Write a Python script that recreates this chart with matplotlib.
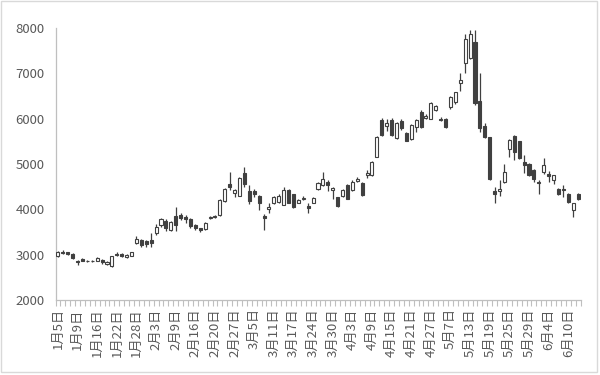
import matplotlib
matplotlib.use("Agg")
import matplotlib.pyplot as plt
from matplotlib.patches import Rectangle
import numpy as np

plt.rcParams['font.family'] = ['Noto Sans CJK JP', 'DejaVu Sans']

# daily candles (category axis, one entry per trading day)
opens = [2980, 3070, 3050, 3010, 2870, 2910, 2870, 2850, 2860, 2880,
         2800, 2740, 3020, 3020, 2950, 2980, 3250, 3320, 3300, 3330,
         3470, 3650, 3740, 3540, 3850, 3880, 3840, 3780, 3650, 3580,
         3570, 3800, 3830, 3880, 4190, 4560, 4360, 4300, 4800, 4400,
         4400, 4300, 3850, 4000, 4150, 4160, 4100, 4420, 4330, 4150,
         4220, 4080, 4150, 4440, 4540, 4600, 4420, 4270, 4300, 4530,
         4420, 4620, 4580, 4760, 4760, 5160, 5980, 5850, 5980, 5570,
         5950, 5680, 5560, 5820, 6150, 6020, 6000, 6200, 6000, 6000,
         6250, 6370, 6800, 7220, 7330, 7700, 6400, 5830, 5590, 4400,
         4400, 4600, 5340, 5630, 5500, 5050, 5010, 4880, 4600, 4820,
         4780, 4640, 4460, 4460, 4350, 3980, 4350]
highs = [3090, 3100, 3070, 3040, 2890, 2930, 2890, 2880, 2950, 2900,
         2860, 2980, 3050, 3040, 3020, 3070, 3420, 3340, 3320, 3480,
         3680, 3820, 3780, 3740, 4060, 3920, 3880, 3820, 3680, 3600,
         3720, 3860, 3870, 4230, 4480, 4830, 4450, 4720, 4940, 4540,
         4460, 4310, 3900, 4140, 4300, 4330, 4500, 4440, 4350, 4220,
         4300, 4140, 4280, 4600, 4830, 4640, 4500, 4280, 4450, 4560,
         4640, 4720, 4600, 4880, 5060, 5620, 6020, 6000, 6020, 5930,
         6000, 5700, 5890, 5990, 6200, 6110, 6370, 6300, 6030, 6010,
         6500, 6600, 7000, 7880, 7950, 7950, 7000, 5900, 5600, 4500,
         4650, 5000, 5550, 5650, 5520, 5190, 5030, 4890, 4640, 5140,
         4840, 4760, 4480, 4530, 4360, 4150, 4360]
lows = [2960, 3020, 2990, 2900, 2780, 2850, 2830, 2830, 2850, 2800,
        2780, 2730, 2970, 2960, 2920, 2970, 3230, 3180, 3170, 3170,
        3440, 3620, 3530, 3520, 3520, 3760, 3700, 3600, 3540, 3490,
        3550, 3790, 3800, 3860, 4170, 4420, 4270, 4290, 4490, 4110,
        4280, 3980, 3550, 3920, 4120, 4140, 4090, 4130, 4040, 4140,
        4200, 3920, 4130, 4420, 4520, 4400, 4220, 4050, 4280, 4220,
        4400, 4600, 4290, 4700, 4740, 5150, 5620, 5740, 5620, 5550,
        5750, 5500, 5540, 5700, 5790, 5990, 5990, 6180, 5940, 5790,
        6220, 6330, 6620, 7000, 7320, 6300, 5700, 5580, 4650, 4140,
        4300, 4580, 5160, 5090, 5120, 4800, 4740, 4600, 4350, 4770,
        4600, 4560, 4320, 4270, 4150, 3840, 4200]
closes = [3050, 3040, 3010, 2920, 2840, 2870, 2850, 2870, 2930, 2830,
          2840, 2970, 3000, 2980, 3000, 3060, 3350, 3220, 3240, 3260,
          3620, 3780, 3580, 3720, 3650, 3820, 3780, 3640, 3580, 3540,
          3700, 3840, 3840, 4200, 4460, 4500, 4420, 4700, 4560, 4180,
          4330, 4150, 3800, 4060, 4270, 4300, 4420, 4150, 4060, 4210,
          4260, 4030, 4250, 4580, 4660, 4530, 4480, 4070, 4430, 4240,
          4610, 4680, 4310, 4800, 5040, 5600, 5650, 5900, 5650, 5900,
          5800, 5520, 5870, 5970, 5820, 6070, 6340, 6280, 5980, 5810,
          6480, 6580, 6860, 7770, 7880, 6350, 5790, 5600, 4660, 4330,
          4460, 4820, 5540, 5260, 5130, 4970, 4760, 4670, 4580, 4990,
          4740, 4750, 4340, 4430, 4170, 4130, 4220]

tick_labels = ['1月5日', '1月9日', '1月16日', '1月22日', '1月28日', '2月3日',
               '2月9日', '2月16日', '2月20日', '2月27日', '3月5日', '3月11日',
               '3月17日', '3月24日', '3月30日', '4月3日', '4月9日', '4月15日',
               '4月21日', '4月27日', '5月7日', '5月13日', '5月19日', '5月25日',
               '5月29日', '6月4日', '6月10日']
label_step = 4

dark = '#404040'
grey_axis = '#bfbfbf'
text_col = '#595959'

fig = plt.figure(figsize=(6, 3.75), dpi=100)
ax = fig.add_axes([0.0925, 0.2, 0.875, 0.725])

o = np.array(opens)
h = np.array(highs)
l = np.array(lows)
c = np.array(closes)
x = np.arange(len(o))
up = c >= o

# wicks
ax.vlines(x, l, h, color=dark, linewidth=0.9, zorder=2)
# bodies
bottom = np.minimum(o, c)
height = np.maximum(np.abs(c - o), 15)
ax.bar(x[up], height[up], bottom=bottom[up], width=0.62,
       facecolor='white', edgecolor=dark, linewidth=0.8, zorder=3)
ax.bar(x[~up], height[~up], bottom=bottom[~up], width=0.62,
       facecolor=dark, edgecolor=dark, linewidth=0.8, zorder=3)

ax.set_xlim(-0.5, len(o) - 0.5)
ax.set_ylim(2000, 8000)
ax.set_yticks(np.arange(2000, 8001, 1000))

ax.set_xticks(np.arange(0, len(tick_labels) * label_step, label_step))
ax.set_xticklabels(tick_labels, rotation=90, fontsize=9.5, color=text_col)
ax.set_xticks(np.arange(-0.5, len(o), 1), minor=True)
ax.tick_params(axis='x', which='major', length=0, pad=6)
ax.tick_params(axis='x', which='minor', length=4, width=0.8, color=grey_axis)
ax.tick_params(axis='y', length=0, pad=8, labelsize=9.5, labelcolor=text_col)

for side in ['top', 'right']:
    ax.spines[side].set_visible(False)
for side in ['left', 'bottom']:
    ax.spines[side].set_color(grey_axis)
    ax.spines[side].set_linewidth(0.9)

# chart area border
fig.patches.append(Rectangle((0.002, 0.008), 0.993, 0.99, transform=fig.transFigure,
                             fill=False, edgecolor='#d9d9d9', linewidth=1))

fig.savefig('out.png', dpi=100)
